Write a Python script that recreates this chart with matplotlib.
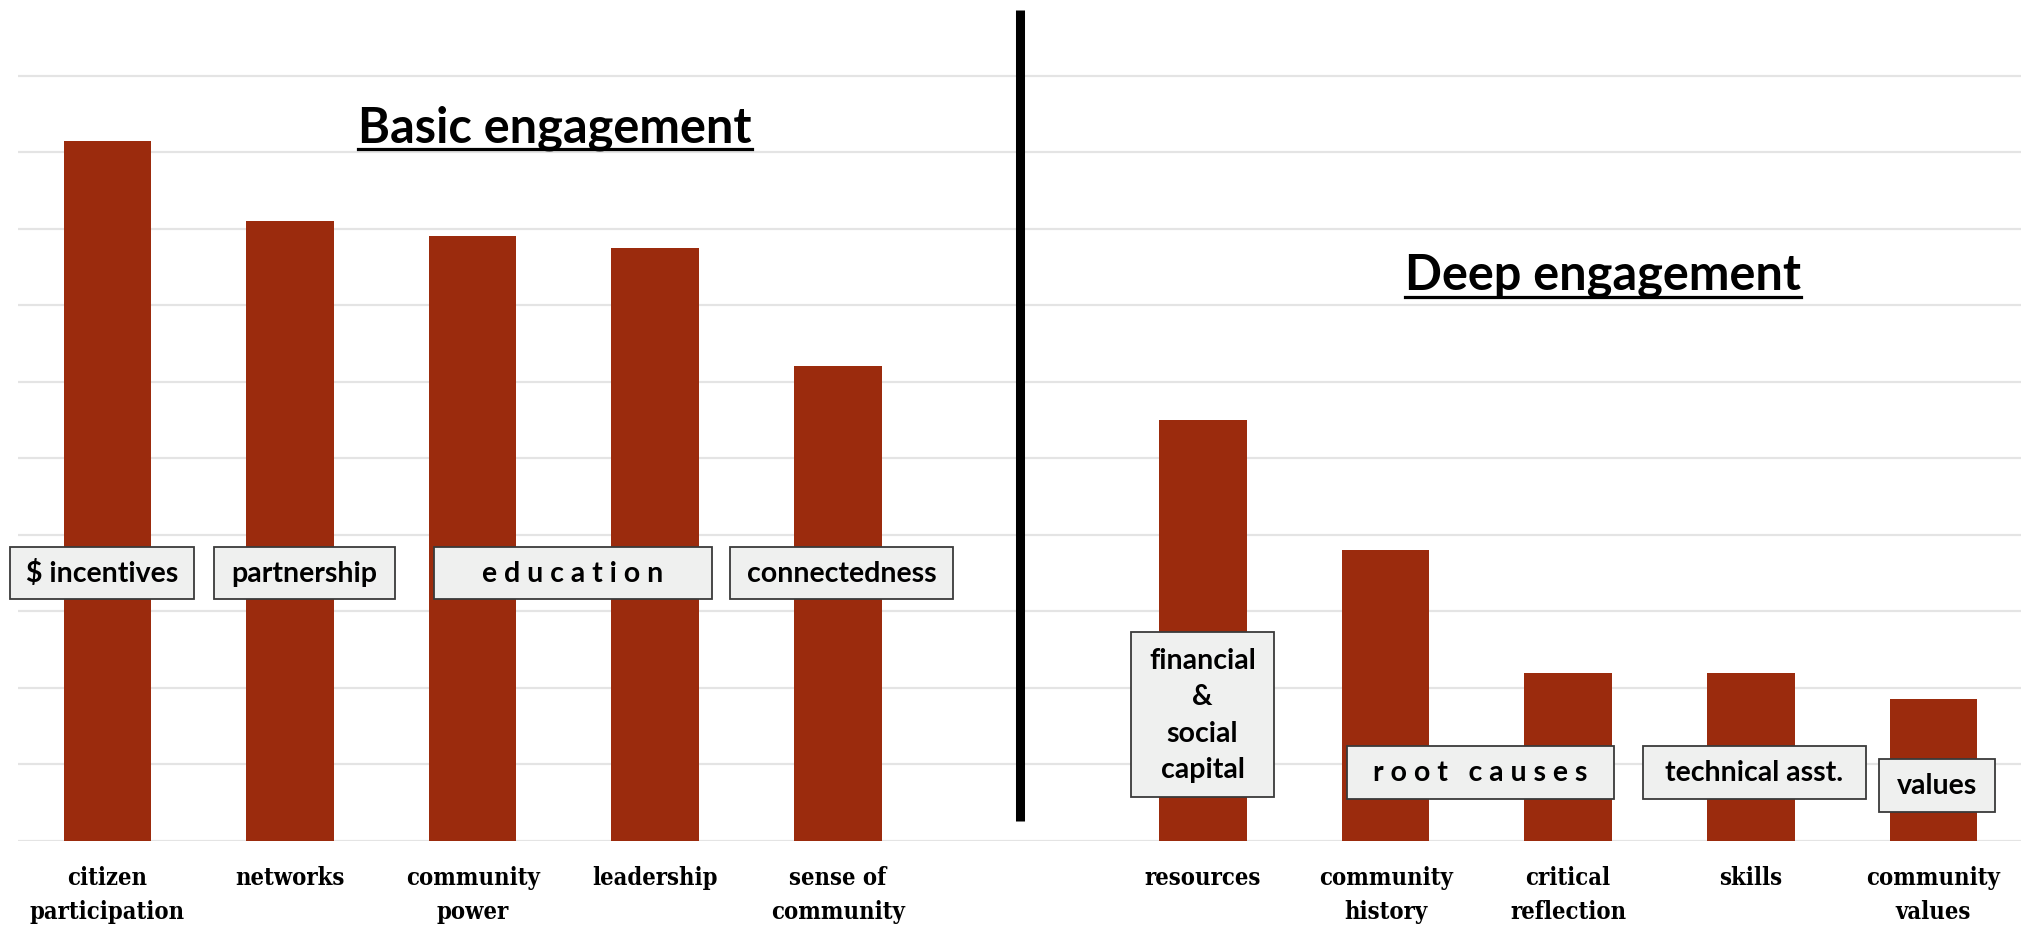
import numpy as np
import matplotlib
matplotlib.use("Agg")
import matplotlib.pyplot as plt
from matplotlib.patches import Rectangle, Circle
from matplotlib.lines import Line2D

# data
basic_labels = ["citizen\nparticipation", "networks", "community\npower",
                "leadership", "sense of\ncommunity"]
basic_values = [9.15, 8.1, 7.9, 7.75, 6.2]
deep_labels = ["resources", "community\nhistory", "critical\nreflection",
               "skills", "community\nvalues"]
deep_values = [5.5, 3.8, 2.2, 2.2, 1.85]

box_texts = ["$ incentives", "partnership", "e d u c a t i o n", "connectedness",
             "financial\n&\nsocial\ncapital", "r o o t   c a u s e s",
             "technical asst.", "values"]
# box layout in pixels (x0, y0, x1, y1), y from top
box_px = [(10, 548, 194, 600), (214, 548, 395, 600), (434, 548, 712, 600),
          (730, 548, 953, 600), (1131, 633, 1274, 798), (1347, 747, 1614, 800),
          (1643, 747, 1866, 800), (1879, 760, 1995, 813)]

W, H = 2021, 928
bar_color = "#9b2b0d"
grid_color = "#e4e4e4"

fig = plt.figure(figsize=(W / 100, H / 100), dpi=100)
ax = fig.add_axes([18 / W, (H - 842) / H, 1 - 18 / W, 842 / H])

pos_basic = np.arange(5)
pos_deep = np.arange(6, 11)
ax.bar(pos_basic, basic_values, width=0.48, color=bar_color, zorder=2)
ax.bar(pos_deep, deep_values, width=0.48, color=bar_color, zorder=2)

ax.set_xlim(-0.49, 10.48)
ax.set_ylim(0, 11)
ax.set_yticks(np.arange(0, 11))
ax.yaxis.grid(True, color=grid_color, linewidth=1.6, zorder=0)
ax.set_axisbelow(True)
ax.tick_params(axis="y", left=False, labelleft=False)
for s in ax.spines.values():
    s.set_visible(False)

ax.set_xticks(list(pos_basic) + list(pos_deep), basic_labels + deep_labels)
ax.tick_params(axis="x", length=0, pad=17)
for t in ax.get_xticklabels():
    t.set_fontfamily("DejaVu Serif")
    t.set_fontstretch("condensed")
    t.set_fontweight("bold")
    t.set_fontsize(17)
    t.set_linespacing(1.55)

# divider in the empty slot
ax.add_line(Line2D([5, 5], [10.85, 0.26], color="black", linewidth=6.5,
                   solid_capstyle="butt", zorder=3, clip_on=False))

def fx(px):
    return px / W

def fy(py):
    return 1 - py / H

# label boxes
for txt, (x0, y0, x1, y1) in zip(box_texts, box_px):
    fig.add_artist(Rectangle((fx(x0), fy(y1)), fx(x1 - x0), (y1 - y0) / H,
                             transform=fig.transFigure, facecolor="#eff0ef",
                             edgecolor="#3a3a3a", linewidth=1.3, zorder=4))
    fig.text(fx((x0 + x1) / 2), fy((y0 + y1) / 2), txt, ha="center", va="center",
             fontsize=20.5, family="Lato", fontweight="bold", linespacing=1.5,
             zorder=5)

# section titles, underlined
fig.canvas.draw()
renderer = fig.canvas.get_renderer()
for title, cx, base, uy in [("Basic engagement", 555, 143, 150),
                            ("Deep engagement", 1603, 290, 298)]:
    t = fig.text(fx(cx), fy(base), title, ha="center", va="baseline",
                 fontsize=35, family="Lato", fontweight="bold", zorder=5)
    bb = t.get_window_extent(renderer)
    fig.add_artist(Line2D([bb.x0 / W, bb.x1 / W], [fy(uy), fy(uy)],
                          transform=fig.transFigure, color="black",
                          linewidth=2.3, zorder=5))

# corner logo ring, mostly cut off
fig.add_artist(Circle((fx(1968), fy(948)), 24 / W, transform=fig.transFigure,
                      fill=False, edgecolor="#b2301a", linewidth=3, zorder=5))

fig.savefig("out.png", dpi=100)
